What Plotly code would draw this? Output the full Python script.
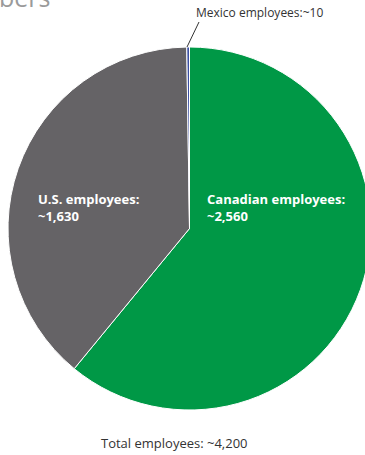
import plotly.graph_objects as go

categories = ["Canadian employees", "U.S. employees", "Mexico employees"]
values = [2560, 1630, 10]
value_labels = ["~2,560", "~1,630", "~10"]
total_label = "~4,200"
colors = ["#009846", "#656366", "#3a4fa3"]

W, H = 371, 455
L, T, B, R = 8, 47, 45, 0
PW = W - L - R
PH = H - T - B

def px(x):
    return (x - L) / PW

def py(y):
    return (H - B - y) / PH

fig = go.Figure(go.Pie(
    labels=categories, values=values, sort=False, direction="clockwise",
    rotation=0, textinfo="none", hoverinfo="label+value",
    marker=dict(colors=colors, line=dict(color="white", width=1)),
    showlegend=False,
))

font_b = dict(family="Open Sans", size=13, color="white")
fig.add_annotation(x=px(36), y=py(207), xref="paper", yref="paper",
                   text="<b>U.S. employees:<br>" + value_labels[1] + "</b>",
                   showarrow=False, xanchor="left", yanchor="middle", align="left", font=font_b)
fig.add_annotation(x=px(205), y=py(207), xref="paper", yref="paper",
                   text="<b>Canadian employees:<br>" + value_labels[0] + "</b>",
                   showarrow=False, xanchor="left", yanchor="middle", align="left", font=font_b)
fig.add_annotation(x=px(194), y=py(13), xref="paper", yref="paper",
                   text="Mexico employees:" + value_labels[2],
                   showarrow=False, xanchor="left", yanchor="middle", align="left",
                   font=dict(family="Open Sans", size=12, color="#333333"))
fig.add_annotation(x=px(174), y=py(443), xref="paper", yref="paper",
                   text="Total employees: " + total_label,
                   showarrow=False, xanchor="center", yanchor="middle",
                   font=dict(family="Open Sans", size=13, color="#333333"))
fig.add_annotation(x=px(-3), y=py(16), xref="paper", yref="paper",
                   text="bers", showarrow=False, xanchor="left", yanchor="bottom",
                   font=dict(family="Open Sans", size=25, color="#9a9a9a"))
fig.add_shape(type="line", xref="paper", yref="paper",
              x0=px(187), y0=py(47), x1=px(199), y1=py(22),
              line=dict(color="#333333", width=1))

fig.update_layout(width=W, height=H, margin=dict(l=L, r=R, t=T, b=B),
                  paper_bgcolor="white", plot_bgcolor="white")
fig.write_html("out.html")
